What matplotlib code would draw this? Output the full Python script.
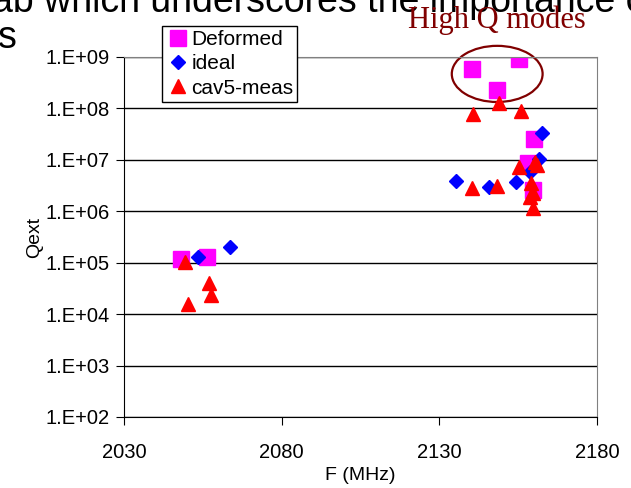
import numpy as np
import matplotlib
matplotlib.use('Agg')
import matplotlib.pyplot as plt
from matplotlib.patches import Ellipse
from matplotlib.ticker import FixedLocator, FuncFormatter, NullLocator

# data
deformed_f = [2048.1, 2056.3, 2140.4, 2148.3, 2155.3, 2158.0, 2160.0, 2159.8]
deformed_q = [1.2e5, 1.3e5, 5.9e8, 2.3e8, 9.0e8, 8.5e6, 2.5e7, 2.6e6]

ideal_f = [2053.5, 2063.6, 2135.2, 2145.9, 2154.3, 2158.6, 2161.6, 2162.5]
ideal_q = [1.3e5, 2.0e5, 3.8e6, 3.0e6, 3.7e6, 5.9e6, 1.05e7, 3.4e7]

meas_f = [2049.3, 2050.3, 2057.0, 2057.6, 2140.7, 2148.9, 2155.9, 2140.5,
          2148.3, 2155.3, 2160.2, 2161.0, 2159.0, 2158.8, 2159.6, 2159.8]
meas_q = [1.05e5, 1.6e4, 4.0e4, 2.4e4, 7.8e7, 1.26e8, 9.0e7, 2.8e6,
          3.1e6, 7.4e6, 9.0e6, 8.0e6, 3.6e6, 1.9e6, 2.3e6, 1.15e6]

x_ticks = [2030, 2080, 2130, 2180]
y_ticks = [1e2, 1e3, 1e4, 1e5, 1e6, 1e7, 1e8, 1e9]

plt.rcParams['font.family'] = ['Liberation Sans', 'DejaVu Sans']

fig = plt.figure(figsize=(6.31, 4.88), dpi=100)
ax = fig.add_axes([124/631, 71/488, 473/631, 360/488])

ax.plot(deformed_f, deformed_q, 's', color='#FF00FF', markersize=11, linestyle='none', label='Deformed')
ax.plot(ideal_f, ideal_q, 'D', color='#0000FF', markersize=7.5, linestyle='none', label='ideal')
ax.plot(meas_f, meas_q, '^', color='#FF0000', markersize=9.5, linestyle='none', label='cav5-meas')

ax.set_yscale('log')
ax.set_xlim(2030, 2180)
ax.set_ylim(1e2, 1e9)
ax.xaxis.set_major_locator(FixedLocator(x_ticks))
ax.yaxis.set_major_locator(FixedLocator(y_ticks))
ax.yaxis.set_minor_locator(NullLocator())
ax.yaxis.set_major_formatter(FuncFormatter(lambda v, p: '1.E+%02d' % round(np.log10(v))))
ax.grid(True, axis='y', color='black', linewidth=1)
ax.set_axisbelow(True)
ax.tick_params(axis='both', direction='out', length=6, color='black')
ax.tick_params(axis='x', labelsize=14.5, pad=13)
ax.tick_params(axis='y', labelsize=14.5, pad=4)
ax.spines['top'].set_color('#808080')
ax.spines['right'].set_color('#808080')
ax.spines['left'].set_color('black')
ax.spines['bottom'].set_color('black')
ax.set_xlabel('F (MHz)', fontsize=14, labelpad=3)
ax.set_ylabel('Qext', fontsize=14, labelpad=2)

leg = ax.legend(loc='upper left', bbox_to_anchor=(162/631, 1 - 26/488),
                bbox_transform=fig.transFigure, fontsize=15, frameon=True,
                fancybox=False, edgecolor='black', framealpha=1,
                borderpad=0.2, labelspacing=0.25, handletextpad=0.1,
                handlelength=1.1, borderaxespad=0)
leg.get_frame().set_linewidth(1)

# circle around the high Q modes
ell = Ellipse((0.789, 0.953), 0.192, 0.156, transform=ax.transAxes,
              fill=False, edgecolor='#800000', linewidth=1.6, clip_on=False)
ax.add_patch(ell)
fig.text(497/631, 1 - 20/488, 'High Q modes', family='Liberation Serif',
         fontsize=22, color='#800000', ha='center', va='center')

# slide text cut off at the top
fig.text(-8/631, 1 - 12/488, 'ab which underscores the importance of',
         fontsize=27, color='black', ha='left', va='baseline', zorder=0)
fig.text(-2/631, 1 - 48/488, 's', fontsize=27, color='black', ha='left', va='baseline')

fig.savefig('out.png', dpi=100)
